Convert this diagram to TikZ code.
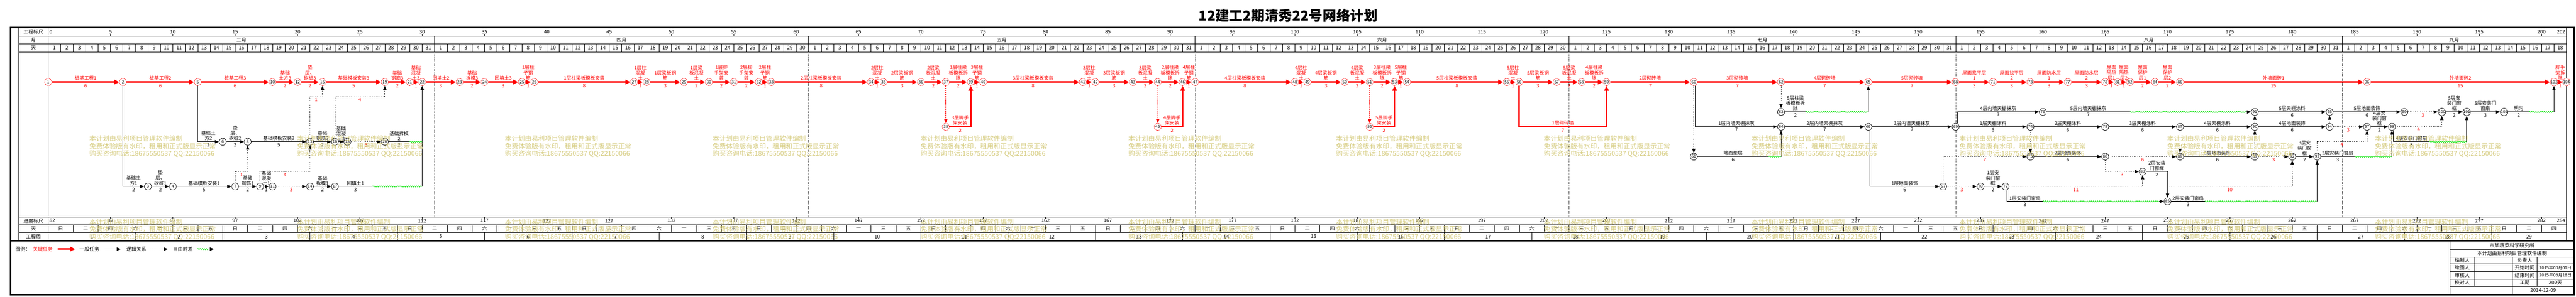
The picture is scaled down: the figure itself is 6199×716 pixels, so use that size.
\documentclass[tikz,border=0pt]{standalone}
\usepackage{fontspec}
\setmainfont{Noto Sans CJK SC}
\usetikzlibrary{arrows.meta,decorations.pathmorphing}
\definecolor{wmk}{RGB}{214,204,128}
\definecolor{fltg}{RGB}{0,225,0}
\newcommand\lblf{\fontsize{11.5}{12.5}\selectfont}
\newcommand\numf{\fontsize{10}{10}\selectfont}
\newcommand\hdrf{\fontsize{12}{13}\selectfont}
\newcommand\wmf{\fontsize{16}{18}\selectfont}
\newcommand\DX[1]{\the\numexpr116+30*(#1)\relax}
\newcommand\wkday[1]{\ifcase#1 日\or 一\or 二\or 三\or 四\or 五\or 六\fi}
\newcommand\TaskC[4]{\draw[crit] (n#1) -- node[lr] (t#1-#2) {#3} node[dr] (d#1-#2) {#4} (n#2);}
\newcommand\TaskG[4]{\draw[gen] (n#1) -- node[lb] (t#1-#2) {#3} node[db] (d#1-#2) {#4} (n#2);}
\newcommand\TaskL[3]{\draw[logic] (n#1) -- node[lg] (g#1-#2) {#3} (n#2);}
\begin{document}
\begin{tikzpicture}[x=1pt,y=-1pt,
  rn/.style={circle, draw=red, dash pattern=on 2pt off 1.2pt, line width=0.9pt, fill=white, minimum size=17pt, inner sep=0pt, font=\numf},
  bn/.style={circle, draw=black, line width=0.9pt, fill=white, minimum size=17pt, inner sep=0pt, font=\numf},
  crit/.style={draw=red, line width=3.5pt, -{Triangle[length=12pt,width=11pt]}},
  gen/.style={draw=black, line width=1.3pt, -{Triangle[length=10pt,width=8pt]}},
  plain/.style={draw=black, line width=1.3pt},
  logic/.style={draw=black, line width=1.2pt, dash pattern=on 1.3pt off 3pt, -{Triangle[length=10pt,width=8pt]}},
  rlogic/.style={draw=red, line width=1.5pt, dash pattern=on 3pt off 2pt, -{Triangle[length=10pt,width=8pt,fill=red]}},
  flt/.style={draw=fltg, line width=1pt, decorate, decoration={snake, amplitude=1.5pt, segment length=5pt}},
  lr/.style={above=2.5pt, text=red, font=\lblf, align=center, inner sep=0.5pt},
  dr/.style={below=3pt, text=red, font=\lblf, inner sep=0.5pt},
  lb/.style={above=1.5pt, font=\lblf, align=center, inner sep=0.5pt},
  db/.style={below=2pt, font=\lblf, inner sep=0.5pt},
  lg/.style={below=2pt, text=red, font=\lblf, inner sep=0.5pt},
  hd/.style={font=\hdrf, inner sep=0pt},
  thin/.style={line width=0.8pt}]
\useasboundingbox (0,0) rectangle (6199,716);
% ---------- title ----------
\node[font=\fontsize{33}{37}\selectfont\bfseries] (title) at (3100,38) {12建工2期清秀22号网络计划};
% ---------- frame and tables ----------
\draw[line width=4pt] (25,66) rectangle (6195,711);
\draw[thin] (45,66) -- (45,581);
\draw[thin] (116,66) -- (116,581);
\draw[thin] (6176,66) -- (6176,581);
\foreach \yy in {87,106,125,523,542,561} \draw[thin] (45,\yy) -- (6176,\yy);
\draw[line width=3pt] (25,581) -- (6195,581);
\node[hd] (h1) at (80.5,76.5) {工程标尺};
\node[hd] (h2) at (80.5,96.5) {月};
\node[hd] (h3) at (80.5,115.5) {天};
\node[hd] (h4) at (80.5,532.5) {进度标尺};
\node[hd] (h5) at (80.5,551.5) {天};
\node[hd] (h6) at (80.5,571) {工程周};
% top scale
\node[hd,anchor=west] (s0) at (119,77) {0};
\foreach \k [evaluate=\k as \v using int(5*\k)] in {1,...,40} {
  \draw[thin] ({116+150*\k},82) -- ({116+150*\k},87);
  \node[hd] (s\k) at ({116+150*\k},77) {\v};
}
\node[hd,anchor=east] (s202) at (6173,77) {202};
% months
\foreach \m in {31,61,92,122,153,184} {
  \draw[thin] ({116+30*\m},87) -- ({116+30*\m},106);
  \draw[line width=.6pt, dash pattern=on 1pt off 2pt] ({116+30*\m},125) -- ({116+30*\m},523);
}
\foreach \c/\t in {15.5/三月,46/四月,76.5/五月,107/六月,137.5/七月,168.5/八月,193/九月}
  \node[hd] (m\c) at ({116+30*\c},96.5) {\t};
% days
\foreach \i in {1,...,201} \draw[thin] ({116+30*\i},106) -- ({116+30*\i},125);
\foreach \s/\n in {0/31,31/30,61/31,92/30,122/31,153/31,184/18} {
  \foreach \i in {1,...,\n} { \node[hd] (dn\s-\i) at ({116+30*(\s+\i)-15},115.5) {\i}; }
}
% bottom progress scale
\node[hd,anchor=west] (p0) at (119,532) {82};
\foreach \k [evaluate=\k as \v using int(82+5*\k)] in {1,...,40} {
  \draw[thin] ({116+150*\k},523) -- ({116+150*\k},528);
  \node[hd] (p\k) at ({116+150*\k},532.5) {\v};
}
\node[hd,anchor=east] (p284) at (6173,532.5) {284};
% bottom weekday row
\foreach \k in {1,...,100} \draw[thin] ({116+60*\k},542) -- ({116+60*\k},561);
\foreach \k in {0,...,100} {
  \pgfmathtruncatemacro\w{mod(2*\k,7)}
  \node[hd] (wd\k) at ({146+60*\k},551.5) {\wkday{\w}};
}
% week row
\foreach \k in {1,...,28} {
  \draw[thin] ({116+210*\k},561) -- ({116+210*\k},581);
  \node[hd] (wk\k) at ({11+210*\k},571) {\k};
}
\node[hd] (wk29) at (6086,571) {29};
% ---------- nodes ----------
\foreach \n/\d in {1/0,2/6,5/12,10/18,12/20,15/22,19/27,21/29,22/30,23/33,24/35,25/38,26/39,27/47,28/48,29/51,30/53,31/55,32/57,33/58,34/66,35/67,36/70,37/72,39/74,40/75,41/83,42/84,43/87,44/89,46/91,47/92,48/100,49/101,50/104,51/106,53/108,54/109,55/117,56/118,57/121,58/123,59/125,60/132,62/139,65/146,68/153,71/156,73/159,77/162,78/165,81/166,82/167,84/169,86/171,96/186,103/201,104/202}
  \node[rn] (n\n) at ({116+30*\d},198) {\n};
\foreach \n/\d in {38/72,45/89,52/106}
  \node[rn] (n\n) at ({116+30*\d},306) {\n};
\foreach \n/\d/\r in {6/14/342,8/16/342,13/21/342,16/23/342,18/24/342,20/27/342,
  3/8/450,4/10/450,7/15/450,9/17/450,11/18/450,14/21/450,17/23/450,
  63/139/270,76/160/270,91/177/270,95/183/270,99/189/270,100/192/270,101/194/270,102/197/270,
  64/139/306,66/146/306,69/153/306,74/159/306,79/165/306,87/171/306,90/177/306,94/183/306,97/186/306,98/188/306,
  61/132/378,75/159/378,80/165/378,88/171/378,89/177/378,92/180/378,93/182/378,
  83/168/414,67/152/450,70/155/450,72/157/450,85/170/486}
  \node[bn] (n\n) at ({116+30*\d},\r) {\n};
% ---------- critical path ----------
\TaskC{1}{2}{桩基工程1}{6}
\TaskC{2}{5}{桩基工程2}{6}
\TaskC{5}{10}{桩基工程3}{6}
\TaskC{10}{12}{基础\\土方3}{2}
\TaskC{12}{15}{垫\\层、\\砍桩3}{2}
\TaskC{15}{19}{基础模板安装3}{5}
\TaskC{19}{21}{基础\\钢筋3}{2}
\TaskC{21}{22}{基础\\混凝\\土3}{1}
\TaskC{22}{23}{回填土2}{3}
\TaskC{23}{24}{基础\\拆模3}{2}
\TaskC{24}{25}{回填土3}{3}
\TaskC{25}{26}{1层柱\\子钢\\筋}{1}
\TaskC{26}{27}{1层柱梁板模板安装}{8}
\TaskC{27}{28}{1层柱\\混凝\\土}{1}
\TaskC{28}{29}{1层梁板钢\\筋}{3}
\TaskC{29}{30}{1层梁\\板混凝\\土}{2}
\TaskC{30}{31}{1层脚\\手架安\\装}{2}
\TaskC{31}{32}{2层脚\\手架安\\装}{2}
\TaskC{32}{33}{2层柱\\子钢\\筋}{1}
\TaskC{33}{34}{2层柱梁板模板安装}{8}
\TaskC{34}{35}{2层柱\\混凝\\土}{1}
\TaskC{35}{36}{2层梁板钢\\筋}{3}
\TaskC{36}{37}{2层梁\\板混凝\\土}{2}
\TaskC{37}{39}{1层柱梁\\板模板拆\\除}{2}
\TaskC{39}{40}{3层柱\\子钢\\筋}{1}
\TaskC{40}{41}{3层柱梁板模板安装}{8}
\TaskC{41}{42}{3层柱\\混凝\\土}{1}
\TaskC{42}{43}{3层梁板钢\\筋}{3}
\TaskC{43}{44}{3层梁\\板混凝\\土}{2}
\TaskC{44}{46}{2层柱梁\\板模板拆\\除}{2}
\TaskC{46}{47}{4层柱\\子钢\\筋}{1}
\TaskC{47}{48}{4层柱梁板模板安装}{8}
\TaskC{48}{49}{4层柱\\混凝\\土}{1}
\TaskC{49}{50}{4层梁板钢\\筋}{3}
\TaskC{50}{51}{4层梁\\板混凝\\土}{2}
\TaskC{51}{53}{3层柱梁\\板模板拆\\除}{2}
\TaskC{53}{54}{5层柱\\子钢\\筋}{1}
\TaskC{54}{55}{5层柱梁板模板安装}{8}
\TaskC{55}{56}{5层柱\\混凝\\土}{1}
\TaskC{56}{57}{5层梁板钢\\筋}{3}
\TaskC{57}{58}{5层梁\\板混凝\\土}{2}
\TaskC{58}{59}{4层柱梁\\板模板拆\\除}{2}
\TaskC{59}{60}{2层砌砖墙}{7}
\TaskC{60}{62}{3层砌砖墙}{7}
\TaskC{62}{65}{4层砌砖墙}{7}
\TaskC{65}{68}{5层砌砖墙}{7}
\TaskC{68}{71}{屋面找平层\\1}{3}
\TaskC{71}{73}{屋面找平层\\2}{3}
\TaskC{73}{77}{屋面防水层\\1}{3}
\TaskC{77}{78}{屋面防水层\\2}{3}
\TaskC{78}{81}{屋面\\隔热\\层1}{1}
\TaskC{81}{82}{屋面\\隔热\\层2}{1}
\TaskC{82}{84}{屋面\\保护\\层1}{2}
\TaskC{84}{86}{屋面\\保护\\层2}{2}
\TaskC{86}{96}{外墙面砖1}{15}
\TaskC{96}{103}{外墙面砖2}{15}
\TaskC{103}{104}{脚手\\架拆\\除}{1}
\draw[rlogic] (n37) -- (n38);
\draw[crit] (n38) -| node[lr,pos=.25] (t38) {3层脚手\\架安装} node[dr,pos=.25] (d38) {2} (n39);
\draw[rlogic] (n44) -- (n45);
\draw[crit] (n45) -| node[lr,pos=.25] (t45) {4层脚手\\架安装} node[dr,pos=.25] (d45) {2} (n46);
\draw[rlogic] (n51) -- (n52);
\draw[crit] (n52) -| node[lr,pos=.25] (t52) {5层脚手\\架安装} node[dr,pos=.25] (d52) {2} (n53);
\coordinate (c56) at (\DX{125},306);
\draw[crit] (n56) |- node[lr,pos=.75] (t56) {1层砌砖墙} node[dr,pos=.75] (d56) {7} (c56) -- (n59);
% ---------- foundation sub-network ----------
\draw[gen] (n2) |- node[lb,pos=.75] (t2-3) {基础土\\方1} node[db,pos=.75] (d2-3) {2} (n3);
\TaskG{3}{4}{垫\\层、\\砍桩1}{2}
\TaskG{4}{7}{基础模板安装1}{5}
\TaskG{7}{9}{基础\\钢筋1}{2}
\TaskG{9}{11}{基础\\混凝\\土1}{1}
\TaskL{11}{14}{3}
\TaskG{14}{17}{基础\\拆模1}{2}
\coordinate (e17) at (\DX{26},450);
\coordinate (f17) at (\DX{30},450);
\draw[plain] (n17) -- node[lb] (t17) {回填土1} node[db] (d17) {3} (e17);
\draw[flt] (e17) -- (f17);
\draw[gen] (f17) -- (n22);
\draw[gen] (n5) |- node[lb,pos=.75] (t5-6) {基础土\\方2} node[db,pos=.75] (d5-6) {2} (n6);
\TaskG{6}{8}{垫\\层、\\砍桩2}{2}
\TaskG{8}{13}{基础模板安装2}{5}
\TaskG{13}{16}{基础\\钢筋2}{2}
\TaskG{16}{18}{基础\\混凝\\土2}{1}
\TaskL{18}{20}{3}
\coordinate (e20) at (\DX{29},342);
\coordinate (f20) at (\DX{30},342);
\draw[plain] (n20) -- node[lb] (t20) {基础拆模\\2} node[db] (d20) {2} (e20);
\draw[flt] (e20) -- (f20);
\coordinate (a7) at (\DX{16},414);
\draw[logic] (n7) |- node[lg,pos=.75] (g7) {1} (a7) -- (n8);
\coordinate (a9) at (\DX{21},414);
\draw[logic] (n9) |- node[lg,pos=.75] (g9) {4} (a9) -- (n13);
\coordinate (a13) at (\DX{22},234);
\draw[logic] (n13) |- node[lg,pos=.75] (g13) {1} (a13) -- (n15);
\coordinate (a16) at (\DX{27},234);
\draw[logic] (n16) |- node[lg,pos=.75] (g16) {4} (a16) -- (n19);
% ---------- finishing sub-network ----------
\draw[logic] (n60) -- (n61);
\draw[gen] ([xshift=4pt]n60.south) |- node[lb,pos=.75] (t60) {1层内墙天棚抹灰} node[db,pos=.75] (d60) {7} (n64);
\coordinate (e61) at (\DX{138},378);
\coordinate (f61) at (\DX{139},378);
\draw[plain] (n61) -- node[lb] (t61) {地面垫层} node[db] (d61) {6} (e61);
\draw[flt] (e61) -- (f61);
\draw[gen] (f61) -- (n64);
\draw[logic] (n62) -- (n63);
\coordinate (e63) at (\DX{141},270);
\coordinate (f63) at (\DX{146},270);
\draw[plain] (n63) -- node[lb] (t63) {5层柱梁\\板模板拆\\除} node[db] (d63) {2} (e63);
\draw[flt] (e63) -- (f63);
\draw[gen] (f63) -- (n65);
\TaskG{64}{66}{2层内墙天棚抹灰}{7}
\TaskG{66}{69}{3层内墙天棚抹灰}{7}
\draw[gen] ([xshift=4pt]n66.south) |- node[lb,pos=.75] (t66) {1层地面装饰} node[db,pos=.75] (d66) {6} (n67);
\TaskL{67}{70}{3}
\draw[logic] (n67) |- node[lg,pos=.75] (g67) {7} (n75);
\TaskG{70}{72}{1层安\\装门窗\\框}{2}
\draw[logic] (n72) -| node[lg,pos=.25] (g72) {11} (n83);
\coordinate (e72) at (\DX{160},486);
\coordinate (f72) at (\DX{170}-20,486);
\draw[plain] ([xshift=4pt]n72.south) |- node[lb,pos=.75] (t72) {1层安装门窗扇} node[db,pos=.75] (d72) {3} (e72);
\draw[flt] (e72) -- (f72);
\draw[gen] (f72) -- (n85);
\draw[gen] ([xshift=4pt]n69.north) |- node[lb,pos=.75] (t69) {4层内墙天棚抹灰} node[db,pos=.75] (d69) {7} (n76);
\TaskG{69}{74}{1层天棚涂料}{6}
\coordinate (e76) at (\DX{167},270);
\coordinate (f76) at (\DX{177}-20,270);
\draw[plain] (n76) -- node[lb] (t76) {5层内墙天棚抹灰} node[db] (d76) {7} (e76);
\draw[flt] (e76) -- (f76);
\draw[gen] (f76) -- (n91);
\TaskG{74}{79}{2层天棚涂料}{6}
\TaskG{79}{87}{3层天棚涂料}{6}
\TaskG{87}{90}{4层天棚涂料}{6}
\draw[logic] (n74) -- (n75);
\TaskG{75}{80}{2层地面装饰}{6}
\TaskL{80}{88}{6}
\draw[logic] (n80) |- node[lg,pos=.75] (g80) {3} (n83);
\draw[gen] (n83) -| node[lb,pos=.25] (t83) {2层安装\\门窗框} node[db,pos=.25] (d83) {2} (n85);
\coordinate (c85) at (\DX{170},450);
\draw[logic] (c85) -| node[lg,pos=.25] (g85) {10} (n92);
\coordinate (e85) at (\DX{173},486);
\coordinate (f85) at (\DX{182},486);
\draw[plain] (n85) -- node[lb] (t85) {2层安装门窗扇} node[db] (d85) {3} (e85);
\draw[flt] (e85) -- (f85);
\draw[gen] (f85) -- (n93);
\draw[logic] (n87) -- (n88);
\TaskG{88}{89}{3层地面装饰}{6}
\TaskL{89}{92}{3}
\draw[logic] (n89) -- (n90);
\draw[logic] (n90) -- (n91);
\TaskG{91}{95}{5层天棚涂料}{6}
\TaskG{90}{94}{4层地面装饰}{6}
\draw[logic] (n94) -- (n95);
\TaskG{95}{99}{5层地面装饰}{6}
\TaskL{99}{100}{3}
\TaskL{94}{97}{3}
\TaskG{97}{98}{4层安\\装门窗\\框}{2}
\draw[logic] (n98) -| node[lg,pos=.25] (g98) {4} (n100);
\coordinate (e98) at (\DX{191},342);
\coordinate (f98) at (\DX{194},342);
\draw[plain] ([xshift=4pt]n98.south) |- node[lb,pos=.75] (t98) {4层安装门窗扇} node[db,pos=.75] (d98) {3} (e98);
\draw[flt] (e98) -- (f98);
\draw[gen] (f98) -- (n101);
\TaskG{100}{101}{5层安\\装门窗\\框}{2}
\TaskG{101}{102}{5层安装门\\窗扇}{3}
\coordinate (e102) at (\DX{199},270);
\coordinate (f102) at (\DX{201},270);
\draw[plain] (n102) -- node[lb] (t102) {明沟} node[db] (d102) {2} (e102);
\draw[flt] (e102) -- (f102);
\draw[gen] (f102) -- (n103);
\TaskG{92}{93}{3层安\\装门窗\\框}{2}
\coordinate (e93) at (\DX{185},378);
\coordinate (f93) at (\DX{188},378);
\draw[plain] (n93) -- node[lb] (t93) {3层安装门窗扇} node[db] (d93) {3} (e93);
\draw[flt] (e93) -- (f93);
\draw[gen] (f93) -- (n98);
\coordinate (a93) at (\DX{186},342);
\draw[logic] (n93) |- node[lg,pos=.75] (g93) {4} (a93) -- (n97);
% ---------- legend ----------
\node[hd,anchor=west] (lg0) at (37,601) {图例：};
\node[hd,anchor=west,text=red] (lg1) at (79,601) {关键任务};
\coordinate (la1) at (139,601); \coordinate (la2) at (181,601);
\draw[crit] (la1) -- (la2);
\node[hd,anchor=west] (lg2) at (191,601) {一般任务};
\coordinate (lb1) at (252,601); \coordinate (lb2) at (291,601);
\draw[gen] (lb1) -- (lb2);
\node[hd,anchor=west] (lg3) at (304,601) {逻辑关系};
\coordinate (lc1) at (362,601); \coordinate (lc2) at (404,601);
\draw[logic] (lc1) -- (lc2);
\node[hd,anchor=west] (lg4) at (416,601) {自由时差};
\coordinate (ld1) at (475,601); \coordinate (ld2) at (502,601); \coordinate (ld3) at (515,601);
\draw[flt] (ld1) -- (ld2);
\draw[gen] (ld2) -- (ld3);
% ---------- title block ----------
\draw[thin] (5895,581) -- (5895,711);
\foreach \yy in {602,620,637,655,673,691} \draw[thin] (5895,\yy) -- (6195,\yy);
\draw[thin] (5955,620) -- (5955,691);
\draw[thin] (6046,620) -- (6046,711);
\draw[thin] (6105,620) -- (6105,691);
\node[hd] (tb1) at (6045,592) {市某蔬菜科学研究所};
\node[hd] (tb2) at (6045,611) {本计划由易利项目管理软件编制};
\node[hd] (tb3) at (5925,628.5) {编制人};
\node[hd] (tb4) at (6075.5,628.5) {负责人};
\node[hd] (tb5) at (5925,646) {绘图人};
\node[hd] (tb6) at (6075.5,646) {开始时间};
\node[hd,font=\fontsize{10.5}{11}\selectfont] (tb7) at (6149.5,646) {2015年03月01日};
\node[hd] (tb8) at (5925,664) {审核人};
\node[hd] (tb9) at (6075.5,664) {结束时间};
\node[hd,font=\fontsize{10.5}{11}\selectfont] (tb10) at (6149.5,664) {2015年09月18日};
\node[hd] (tb11) at (5925,682) {校对人};
\node[hd] (tb12) at (6075.5,682) {工期};
\node[hd] (tb13) at (6149.5,682) {202天};
\node[hd] (tb14) at (6120,700.5) {2014-12-09};
% ---------- watermark ----------
\foreach \xx in {215,715,...,5715} {
  \foreach \yy in {327,527} {
    \node[anchor=north west, text=wmk, font=\wmf, align=left, inner sep=0pt] (wm\xx-\yy) at (\xx,\yy)
      {本计划由易利项目管理软件编制\\免费体验版有水印，租用和正式版显示正常\\购买咨询电话:18675550537 QQ:22150066};
  }
}
\end{tikzpicture}
\end{document}
